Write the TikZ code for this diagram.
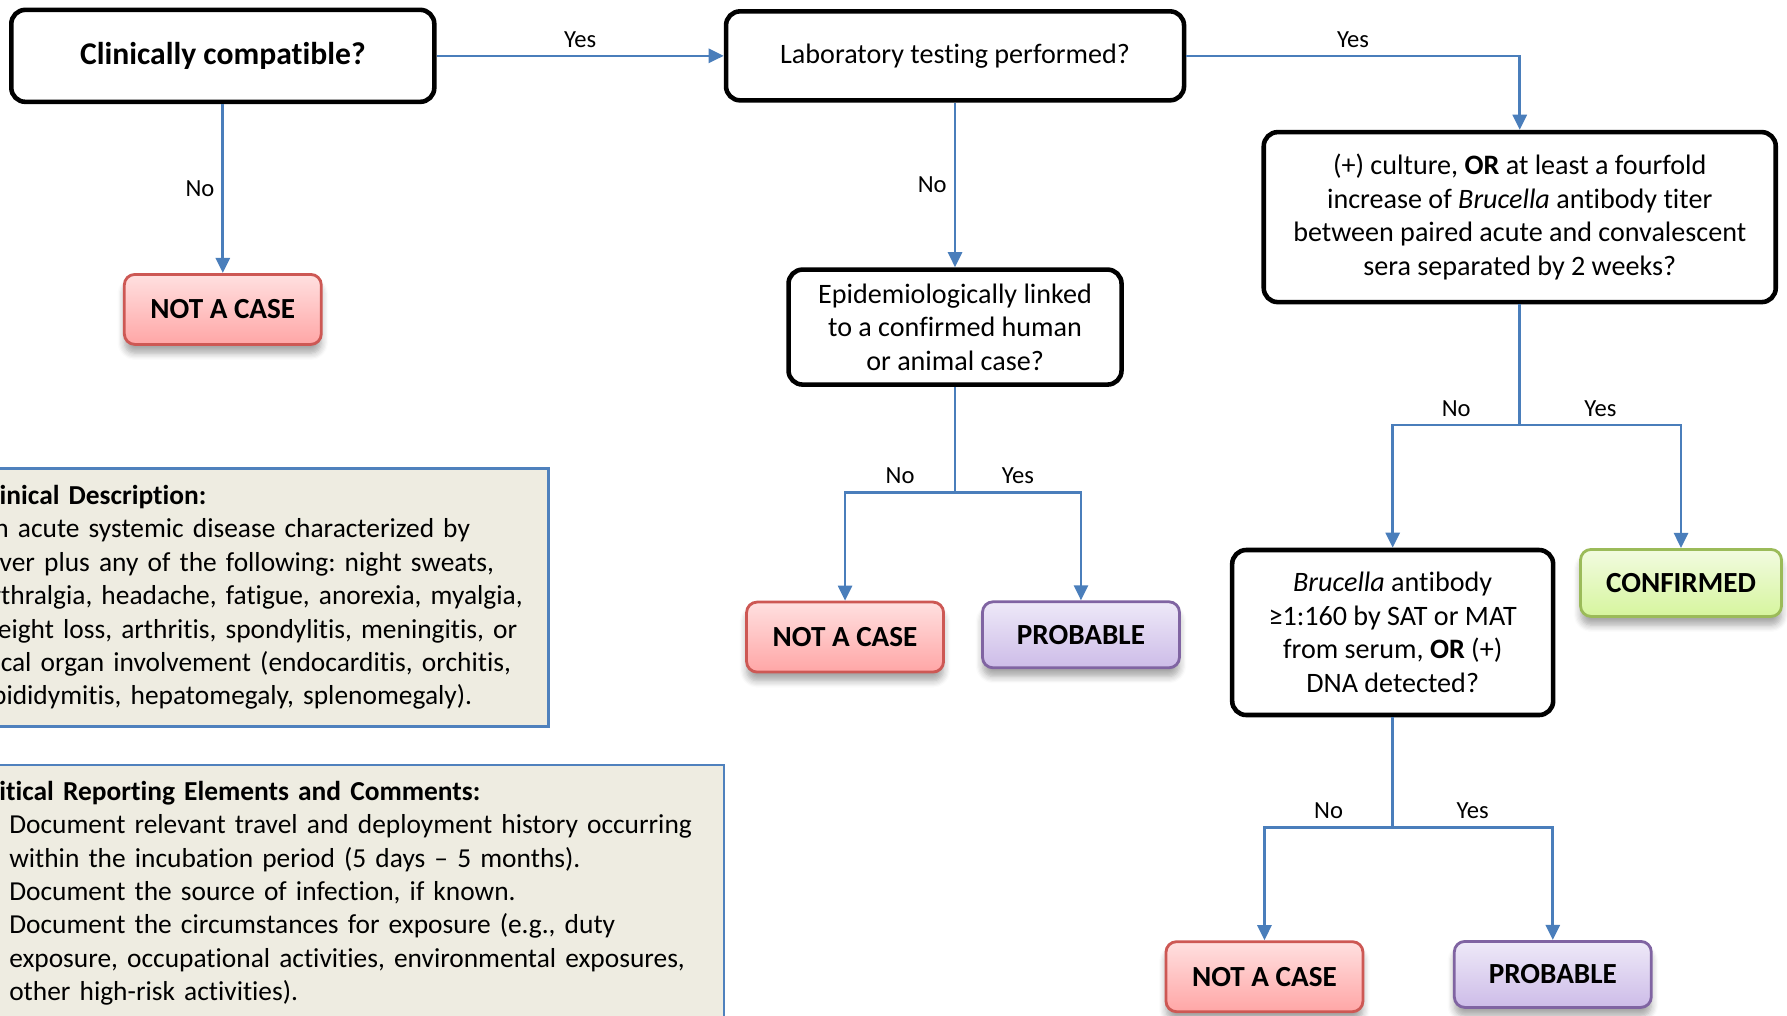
\documentclass[tikz,border=0pt]{standalone}
\usepackage{fontspec}
\setmainfont{Carlito}[Ligatures=NoCommon]
\usetikzlibrary{arrows.meta,shadows.blur}
\frenchspacing

\definecolor{linkblue}{RGB}{74,126,187}
\definecolor{infoblue}{RGB}{79,129,189}
\definecolor{infofill}{RGB}{238,236,225}
\definecolor{notline}{RGB}{205,88,84}
\definecolor{nottop}{RGB}{255,224,224}
\definecolor{notbot}{RGB}{255,166,166}
\definecolor{probline}{RGB}{128,100,162}
\definecolor{probtop}{RGB}{238,233,248}
\definecolor{probbot}{RGB}{205,188,232}
\definecolor{confline}{RGB}{155,187,89}
\definecolor{conftop}{RGB}{242,251,224}
\definecolor{confbot}{RGB}{214,245,158}

\tikzstyle{question}=[draw=black, line width=1.3pt, rounded corners=4pt, fill=white, align=center, inner sep=2pt, font=\fontsize{8}{9.55}\selectfont]
\tikzstyle{outcome}=[line width=0.8pt, rounded corners=3pt, minimum width=1.97cm, font=\fontsize{8.3}{10}\selectfont\bfseries, blur shadow={shadow xshift=0pt, shadow yshift=-2.5pt, shadow blur steps=6, shadow opacity=35}]
\tikzstyle{notcase}=[outcome, draw=notline, top color=nottop, bottom color=notbot, minimum height=0.70cm]
\tikzstyle{probable}=[outcome, draw=probline, top color=probtop, bottom color=probbot, minimum height=0.66cm]
\tikzstyle{confirmed}=[outcome, draw=confline, top color=conftop, bottom color=confbot, minimum width=2.01cm, minimum height=0.67cm]
\tikzstyle{link}=[draw=linkblue, line width=0.75pt]
\tikzstyle{arr}=[link, -{Triangle[length=4.3pt,width=4pt]}]
\tikzstyle{ans}=[font=\fontsize{7}{8}\selectfont, inner sep=2pt]
\tikzstyle{info}=[draw=infoblue, line width=0.8pt, fill=infofill, align=left, anchor=north west, inner xsep=0.09cm, inner ysep=0.16cm, font=\fontsize{7.8}{9.5}\selectfont]

\begin{document}
\begin{tikzpicture}[x=0.11397mm, y=-0.11397mm]
\def\ind{0.342cm}

	\useasboundingbox (0,0) rectangle (1568,891);
	\clip (0,0) rectangle (1568,891);

%   Questions
	\node[question, minimum width=4.23cm, minimum height=0.92cm, font=\fontsize{9}{11}\selectfont\bfseries] (clin) at (195.5,49) {Clinically compatible?};
	\node[question, minimum width=4.58cm, minimum height=0.89cm] (lab) at (838,49) {Laboratory testing performed?};
	\node[question, minimum width=5.12cm, minimum height=1.70cm] (cult) at (1333.5,190.5) {(+) culture, \textbf{OR} at least a fourfold\\ increase of \textit{Brucella} antibody titer\\ between paired acute and convalescent\\ sera separated by 2 weeks?};
	\node[question, minimum width=3.33cm, minimum height=1.15cm] (epi) at (838,287) {Epidemiologically linked\\ to a confirmed human\\ or animal case?};
	\node[question, minimum width=3.21cm, minimum height=1.65cm] (bruc) at (1222,555) {\textit{Brucella} antibody\\ ≥1:160 by SAT or MAT\\ from serum, \textbf{OR} (+)\\ DNA detected?};

%   Outcomes
	\node[notcase] (nac1) at (195.5,271.5) {NOT A CASE};
	\node[notcase] (nac2) at (741.5,559) {NOT A CASE};
	\node[probable] (prob1) at (948.5,557) {PROBABLE};
	\node[confirmed] (conf) at (1475,511.5) {CONFIRMED};
	\node[notcase] (nac3) at (1109.5,857) {NOT A CASE};
	\node[probable] (prob2) at (1362.5,855) {PROBABLE};

%   Branch points
	\coordinate (epij) at (838,432);
	\coordinate (cultj) at (1333.5,373);
	\coordinate (brucj) at (1222,726);

%   Connectors
	\draw[arr] (clin.east) -- node[ans,above]{Yes} (clin.east -| lab.west);
	\draw[arr] (clin.south) -- node[ans,left]{No} (nac1.north);
	\draw[arr] (lab.east) -| node[ans,above,pos=0.25]{Yes} (cult.north);
	\draw[arr] (lab.south) -- node[ans,left]{No} (epi.north);

	\draw[link] (epi.south) -- (epij);
	\draw[arr] (epij) -| node[ans,above,pos=0.25]{No} (nac2.north);
	\draw[arr] (epij) -| node[ans,above,pos=0.25]{Yes} (prob1.north);

	\draw[link] (cult.south) -- (cultj);
	\draw[arr] (cultj) -| node[ans,above,pos=0.25]{No} (bruc.north);
	\draw[arr] (cultj) -| node[ans,above,pos=0.25]{Yes} (conf.north);

	\draw[link] (bruc.south) -- (brucj);
	\draw[arr] (brucj) -| node[ans,above,pos=0.25]{No} (nac3.north);
	\draw[arr] (brucj) -| node[ans,above,pos=0.25]{Yes} (prob2.north);

%   Side notes
	\node[info, text width=5.61cm, minimum height=2.576cm] (clindesc) at (-28,410) {\textbf{Clinical Description:}\\
	An acute systemic disease characterized by\\
	fever plus any of the following: night sweats,\\
	arthralgia, headache, fatigue, anorexia, myalgia,\\
	weight loss, arthritis, spondylitis, meningitis, or\\
	focal organ involvement (endocarditis, orchitis,\\
	epididymitis, hepatomegaly, splenomegaly).};
	\node[info, text width=7.40cm] (critical) at (-31,670) {\textbf{Critical Reporting Elements and Comments:}\\
	\makebox[\ind][l]{\textbullet}Document relevant travel and deployment history occurring\\
	\hspace*{\ind}within the incubation period (5 days – 5 months).\\
	\makebox[\ind][l]{\textbullet}Document the source of infection, if known.\\
	\makebox[\ind][l]{\textbullet}Document the circumstances for exposure (e.g., duty\\
	\hspace*{\ind}exposure, occupational activities, environmental exposures,\\
	\hspace*{\ind}other high-risk activities).};

\end{tikzpicture}
\end{document}
